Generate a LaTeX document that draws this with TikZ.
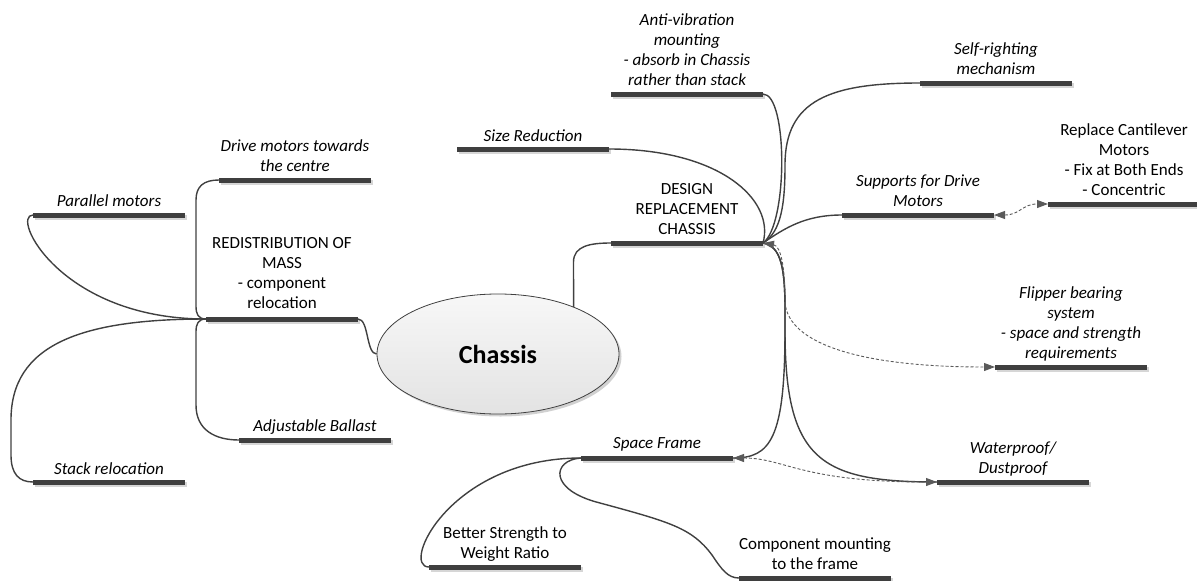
\documentclass[tikz,border=0pt]{standalone}
\usepackage{fontspec}
\setmainfont{Carlito}
\usetikzlibrary{shadows,arrows.meta,shapes.geometric}
\definecolor{bardark}{HTML}{3F3F3F}
\definecolor{barshadow}{HTML}{D6D6D6}
\definecolor{linec}{HTML}{404040}
\definecolor{dashc}{HTML}{5A5A5A}
\begin{document}
\begin{tikzpicture}[x=1pt,y=-1pt,
  bar/.style={rectangle,minimum width=152pt,minimum height=5pt,inner sep=0pt,outer sep=0pt,fill=bardark,draw=none,
    drop shadow={shadow xshift=2pt,shadow yshift=-2.5pt,fill=barshadow,opacity=1}},
  lbl/.style={align=center,inner sep=0pt,anchor=base,font=\fontsize{17}{20}\selectfont},
  ital/.style={lbl,font=\fontsize{17}{20}\selectfont\itshape},
  conn/.style={draw=linec,line width=1.4pt},
  dconn/.style={draw=dashc,line width=0.9pt,dash pattern=on 3pt off 2pt,
    {Triangle[length=11pt,width=8pt]}-{Triangle[length=11pt,width=8pt]}},
  central/.style={ellipse,minimum width=242pt,minimum height=120pt,inner sep=0pt,draw=linec,line width=0.8pt,
    top color=white!97!black,bottom color=white!89!black,
    drop shadow={shadow xshift=2.5pt,shadow yshift=-2.5pt,fill=black,opacity=0.18},
    font=\fontsize{26}{30}\selectfont\bfseries}
]
\useasboundingbox (0,0) rectangle (1197,581);

% central node
\node[central] (chassis) at (498,354) {Chassis};

% bars
\node[bar] (drive) at (295,180) {};
\node[bar] (parallel) at (109,215) {};
\node[bar] (redist) at (282,319) {};
\node[bar] (ballast) at (315,440) {};
\node[bar] (stack) at (109,482) {};
\node[bar] (design) at (687,243) {};
\node[bar] (antivib) at (687,94) {};
\node[bar] (size) at (533,149) {};
\node[bar] (selfr) at (996,83) {};
\node[bar] (supports) at (918,215) {};
\node[bar] (replace) at (1124,204) {};
\node[bar] (flipper) at (1071,367) {};
\node[bar] (water) at (1013,482) {};
\node[bar] (space) at (657,458) {};
\node[bar] (better) at (505,567) {};
\node[bar] (comp) at (815,578) {};

% labels (base = baseline of last line)
\node[ital] (drive-t) at (295,171.5) {Drive motors towards\\the centre};
\node[ital] (parallel-t) at (109,206.5) {Parallel motors};
\node[lbl] (redist-t) at (282,308.5) {REDISTRIBUTION OF\\MASS\\- component\\relocation};
\node[ital] (ballast-t) at (315,431.5) {Adjustable Ballast};
\node[ital] (stack-t) at (109,474.5) {Stack relocation};
\node[lbl] (design-t) at (687,234.5) {DESIGN\\REPLACEMENT\\CHASSIS};
\node[ital] (antivib-t) at (687,85.5) {Anti-vibration\\mounting\\- absorb in Chassis\\rather than stack};
\node[ital] (size-t) at (533,141) {Size Reduction};
\node[ital] (selfr-t) at (996,74.5) {Self-righting\\mechanism};
\node[ital] (supports-t) at (918,206.5) {Supports for Drive\\Motors};
\node[lbl] (replace-t) at (1124,195.5) {Replace Cantilever\\Motors\\- Fix at Both Ends\\- Concentric};
\node[ital] (flipper-t) at (1071,358) {Flipper bearing\\system\\- space and strength\\requirements};
\node[ital] (water-t) at (1013,473.5) {Waterproof/\\Dustproof};
\node[ital] (space-t) at (657,448.5) {Space Frame};
\node[lbl] (better-t) at (505,558.5) {Better Strength to\\Weight Ratio};
\node[lbl] (comp-t) at (815,569.5) {Component mounting\\to the frame};

% left side connectors
\draw[conn] (redist.west) .. controls (198,319) and (196,314) .. (196,306) -- (196,200)
  .. controls (196,186) and (204,180) .. (drive.west);
\draw[conn] (redist.west) .. controls (198,319) and (196,324) .. (196,332) -- (196,405)
  .. controls (196,430) and (215,440) .. (ballast.west);
\draw[conn] (redist.west) .. controls (60,319) and (10,215) .. (parallel.west);
\draw[conn] (redist.west) .. controls (80,319) and (11,345) .. (11,420) -- (11,455)
  .. controls (11,474) and (19,482) .. (stack.west);
\draw[conn] (redist.east) .. controls (369,319) and (366,354) .. (chassis.west);

% chassis to design
\draw[conn] (chassis.32) -- (573.5,262) .. controls (573.5,246) and (590,243) .. (design.west);

% design connectors
\draw[conn] (design.east) .. controls (788,225) and (788,94) .. (antivib.east);
\draw[conn] (design.east) .. controls (781,232) and (785,205) .. (785,165)
  .. controls (785,100) and (830,83) .. (selfr.west);
\draw[conn] (size.east) .. controls (720,149) and (775,200) .. (design.east);
\draw[conn] (design.east) .. controls (785,228) and (805,215) .. (supports.west);
\draw[conn] (design.east) .. controls (781,246) and (785,268) .. (785,310) -- (785,330)
  .. controls (785,440) and (770,458) .. (space.east);
\draw[conn] (design.east) .. controls (781,246) and (785,268) .. (785,310) -- (785,330)
  .. controls (785,460) and (820,482) .. (water.west);

% space frame connectors
\draw[conn] (space.west) .. controls (450,458) and (400,567) .. (better.west);
\draw[conn] (space.west) .. controls (552,460) and (548,490) .. (600,503)
  .. controls (670,522) and (692,528) .. (712,555)
  .. controls (722,570) and (728,578) .. (comp.west);

% dashed links
\draw[dconn] (supports.east) .. controls (1020,215) and (1022,204) .. (replace.west);
\draw[dconn] (design.east) .. controls (781,246) and (785,268) .. (785,300)
  .. controls (785,340) and (850,367) .. (flipper.west);
\draw[dconn] (space.east) .. controls (785,458) and (800,482) .. (water.west);
\end{tikzpicture}
\end{document}
